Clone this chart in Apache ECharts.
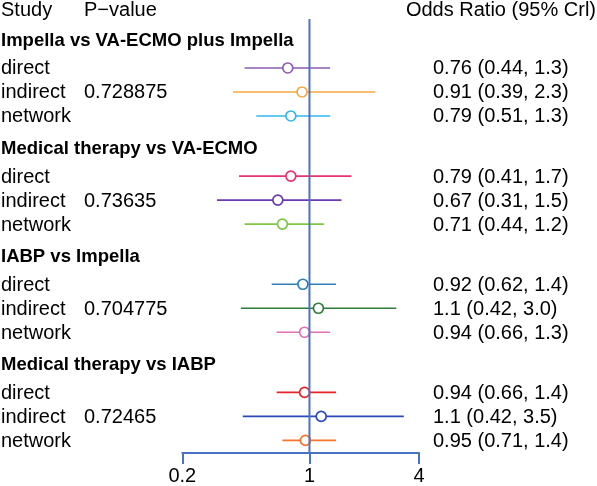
<!DOCTYPE html>
<html><head><meta charset="utf-8">
<script src="https://cdn.jsdelivr.net/npm/echarts@6/dist/echarts.min.js"></script>
<style>html,body{margin:0;padding:0;background:#fff}#c{width:597px;height:486px}</style>
</head><body><div id="c"></div>
<script>
// ---- data ----
const groups = ['Impella vs VA-ECMO plus Impella', 'Medical therapy vs VA-ECMO', 'IABP vs Impella', 'Medical therapy vs IABP'];
const rowTypes = ['direct', 'indirect', 'network'];
const pValues = ['0.728875', '0.73635', '0.704775', '0.72465'];
const estimates = [[0.76, 0.91, 0.79], [0.79, 0.67, 0.71], [0.92, 1.12, 0.94], [0.94, 1.16, 0.95]];
const lowers = [[0.44, 0.38, 0.51], [0.41, 0.31, 0.44], [0.62, 0.42, 0.66], [0.66, 0.43, 0.71]];
const uppers = [[1.3, 2.3, 1.3], [1.7, 1.5, 1.2], [1.4, 3.0, 1.3], [1.4, 3.3, 1.4]];
const orTexts = [
  ['0.76 (0.44, 1.3)', '0.91 (0.39, 2.3)', '0.79 (0.51, 1.3)'],
  ['0.79 (0.41, 1.7)', '0.67 (0.31, 1.5)', '0.71 (0.44, 1.2)'],
  ['0.92 (0.62, 1.4)', '1.1 (0.42, 3.0)', '0.94 (0.66, 1.3)'],
  ['0.94 (0.66, 1.4)', '1.1 (0.42, 3.5)', '0.95 (0.71, 1.4)']
];
const xTicks = [0.2, 1, 4];
const colors = [
  ['#8E5AB5', '#F5A940', '#2FB8EC'],
  ['#E8326E', '#6A3AB0', '#7DC843'],
  ['#2F7EB8', '#2E7D3A', '#E070B8'],
  ['#E5252A', '#2B4AB8', '#F5752A']
];

// ---- layout ----
const FONT = '"Liberation Sans", Arial, Helvetica, sans-serif';
const AXIS_BLUE = '#4A72C4';
const GROUP_STEP = 4.46, HEAD_OFF = 0.86, ROW_OFF = 2.02, ROW_STEP = 0.99;
const Y_MAX = 17.9;

const rows = [];
groups.forEach((g, gi) => {
  rowTypes.forEach((t, ri) => {
    rows.push({ value: [estimates[gi][ri], lowers[gi][ri], uppers[gi][ri], ROW_OFF + gi * GROUP_STEP + ri * ROW_STEP],
      g: gi, r: ri });
  });
});
const heads = groups.map((g, gi) => ({ value: [1, HEAD_OFF + gi * GROUP_STEP], g: gi }));

const chart = echarts.init(document.getElementById('c'), null, { renderer: 'canvas' });
chart.setOption({
  animation: false,
  backgroundColor: '#fff',
  grid: { left: 182.3, right: 178, top: 19, bottom: 32 },
  xAxis: {
    type: 'log', logBase: 10, min: 0.2, max: 4, position: 'bottom',
    axisLine: { show: true, onZero: false, lineStyle: { color: AXIS_BLUE, width: 2 } },
    axisTick: { show: true, length: 11, customValues: xTicks, lineStyle: { color: AXIS_BLUE, width: 2 } },
    axisLabel: { customValues: xTicks, color: '#000', fontSize: 20, fontFamily: FONT, margin: 13,
      formatter: v => String(+v.toPrecision(3)) },
    splitLine: { show: false }, minorTick: { show: false }
  },
  yAxis: { type: 'value', min: 0, max: Y_MAX, inverse: true, show: false },
  graphic: [
    { type: 'text', left: 1, top: 0, style: { text: 'Study', font: '20px ' + FONT, fill: '#000' } },
    { type: 'text', left: 84, top: 0, style: { text: 'P\u2212value', font: '20px ' + FONT, fill: '#000' } },
    { type: 'text', right: 1, top: 0, style: { text: 'Odds Ratio (95% Crl)', font: '20px ' + FONT, fill: '#000' } }
  ],
  series: [
    {
      type: 'custom', z: 2, clip: false,
      encode: { x: [0, 1, 2], y: 3 },
      data: rows,
      renderItem(params, api) {
        const item = rows[params.dataIndex];
        const e = api.value(0), lo = api.value(1), hi = api.value(2), y = api.value(3);
        const pL = api.coord([lo, y]), pH = api.coord([hi, y]), pE = api.coord([e, y]);
        const col = colors[item.g][item.r];
        const children = [
          { type: 'line', shape: { x1: pL[0], y1: pL[1], x2: pH[0], y2: pH[1] }, style: { stroke: col, lineWidth: 1.7 } },
          { type: 'circle', shape: { cx: pE[0], cy: pE[1], r: 5 }, style: { fill: '#fff', stroke: col, lineWidth: 1.7 } },
          { type: 'text', x: 1, y: pE[1] + 1, style: { text: rowTypes[item.r], font: '20px ' + FONT, fill: '#000', textVerticalAlign: 'middle' } },
          { type: 'text', x: 433, y: pE[1] + 1, style: { text: orTexts[item.g][item.r], font: '20px ' + FONT, fill: '#000', textVerticalAlign: 'middle' } }
        ];
        if (item.r === 1) {
          children.push({ type: 'text', x: 84, y: pE[1] + 1, style: { text: pValues[item.g], font: '20px ' + FONT, fill: '#000', textVerticalAlign: 'middle' } });
        }
        return { type: 'group', children };
      }
    },
    {
      type: 'custom', z: 2, clip: false,
      encode: { x: 0, y: 1 },
      data: heads,
      renderItem(params, api) {
        const p = api.coord([api.value(0), api.value(1)]);
        return { type: 'text', x: 1, y: p[1] + 1,
          style: { text: groups[heads[params.dataIndex].g], font: 'bold 18.5px ' + FONT, fill: '#000', textVerticalAlign: 'middle' } };
      }
    },
    {
      type: 'custom', z: 5, clip: false,
      encode: { x: 0 },
      data: [[1]],
      renderItem(params, api) {
        const cs = params.coordSys;
        const x = api.coord([api.value(0), 0])[0];
        return { type: 'line', shape: { x1: x, y1: cs.y, x2: x, y2: cs.y + cs.height }, style: { stroke: AXIS_BLUE, lineWidth: 2 } };
      }
    }
  ]
});
</script>
</body></html>
